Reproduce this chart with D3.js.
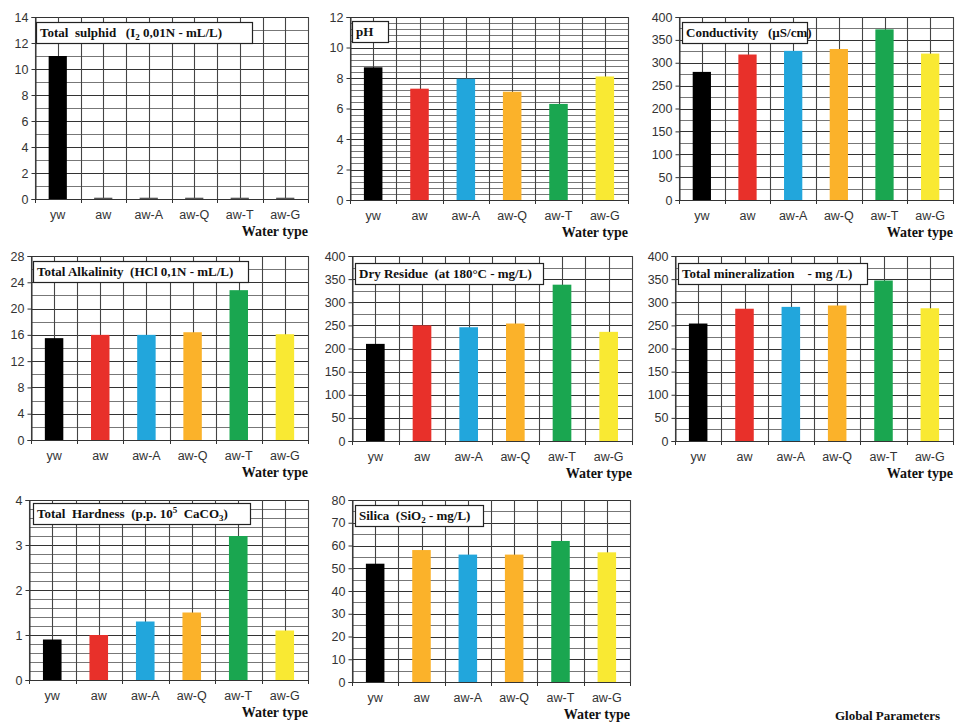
<!DOCTYPE html>
<html>
<head>
<meta charset="utf-8">
<script src="https://cdn.jsdelivr.net/npm/d3@7"></script>
<style>
  body { margin: 0; background: #fff; }
  svg { display: block; }
</style>
</head>
<body>
<svg id="chart" width="955" height="722"></svg>
<script>
// water types along the x axis
const categories = ["yw", "aw", "aw-A", "aw-Q", "aw-T", "aw-G"];

// values
const sulphidValues = [11.0, 0.1, 0.1, 0.1, 0.1, 0.1];
const phValues = [8.7, 7.3, 7.95, 7.1, 6.3, 8.1];
const conductivityValues = [280, 318, 326, 330, 373, 320];
const alkalinityValues = [15.5, 16.0, 16.0, 16.4, 22.8, 16.1];
const dryResidueValues = [210, 250, 246, 254, 338, 236];
const mineralizationValues = [254, 286, 290, 293, 347, 287];
const hardnessValues = [0.9, 1.0, 1.3, 1.5, 3.2, 1.1];
const silicaValues = [52, 58, 56, 56, 62, 57];

// bar colours
const typeColors = ["#000000", "#e8302a", "#22a6dc", "#fbb22a", "#1aa650", "#f9e933"];
const silicaColors = ["#000000", "#fbb22a", "#22a6dc", "#fbb22a", "#1aa650", "#f9e933"];
const sulphidColors = ["#000000", "#555555", "#555555", "#555555", "#555555", "#555555"];

// y axis ranges: [max, tick step, minor step]
const sulphidAxis = [14, 2, 1];
const phAxis = [12, 2, 0.4];
const conductivityAxis = [400, 50, 25];
const alkalinityAxis = [28, 4, 2];
const dryResidueAxis = [400, 50, 25];
const mineralizationAxis = [400, 50, 25];
const hardnessAxis = [4, 1, 0.2];
const silicaAxis = [80, 10, 5];

// title parts: [text, "sub"|"sup"|null]
const sulphidTitle = [["Total  sulphid   (I", null], ["2", "sub"], [" 0,01N - mL/L)", null]];
const phTitle = [["pH", null]];
const conductivityTitle = [["Conductivity   (\u00b5S/cm)", null]];
const alkalinityTitle = [["Total Alkalinity  (HCl 0,1N - mL/L)", null]];
const dryResidueTitle = [["Dry Residue  (at 180\u00b0C - mg/L)", null]];
const mineralizationTitle = [["Total mineralization    - mg /L)", null]];
const hardnessTitle = [["Total  Hardness  (p.p. 10", null], ["5", "sup"], ["  CaCO", null], ["3", "sub"], [")", null]];
const silicaTitle = [["Silica  (SiO", null], ["2", "sub"], [" - mg/L)", null]];

const svg = d3.select("#chart");

// panel frames in page pixels
const panels = [
    { values: sulphidValues, axis: sulphidAxis, title: sulphidTitle, colors: sulphidColors,
      x0: 35, x1: 308, y0: 17, y1: 199, box: [36, 22, 216] },
    { values: phValues, axis: phAxis, title: phTitle, colors: typeColors,
      x0: 350, x1: 628, y0: 17, y1: 200, box: [352, 21, 36] },
    { values: conductivityValues, axis: conductivityAxis, title: conductivityTitle, colors: typeColors,
      x0: 679, x1: 953, y0: 17, y1: 200, box: [682, 22, 125] },
    { values: alkalinityValues, axis: alkalinityAxis, title: alkalinityTitle, colors: typeColors,
      x0: 31, x1: 308, y0: 256, y1: 440, box: [33, 261, 215] },
    { values: dryResidueValues, axis: dryResidueAxis, title: dryResidueTitle, colors: typeColors,
      x0: 352, x1: 632, y0: 256, y1: 441, box: [355, 263, 188] },
    { values: mineralizationValues, axis: mineralizationAxis, title: mineralizationTitle, colors: typeColors,
      x0: 675, x1: 953, y0: 256, y1: 441, box: [678, 263, 189] },
    { values: hardnessValues, axis: hardnessAxis, title: hardnessTitle, colors: typeColors,
      x0: 29, x1: 308, y0: 500, y1: 680, box: [33, 503, 217] },
    { values: silicaValues, axis: silicaAxis, title: silicaTitle, colors: silicaColors,
      x0: 352, x1: 630, y0: 500, y1: 682, box: [355, 505, 128] }
];

panels.forEach(drawPanel);

// caption bottom right
svg.append("text")
    .attr("x", 940).attr("y", 720)
    .attr("text-anchor", "end")
    .attr("font-family", "Liberation Serif")
    .attr("font-weight", "bold")
    .attr("font-size", 13)
    .attr("fill", "#111")
    .text("Global Parameters");

function drawPanel(p) {
    const g = svg.append("g");
    const max = p.axis[0], step = p.axis[1], minor = p.axis[2];

    const x = d3.scaleBand().domain(categories).range([p.x0, p.x1]);
    const y = d3.scaleLinear().domain([0, max]).range([p.y1, p.y0]);

    // horizontal minor grid
    const minorTicks = d3.range(0, max + minor / 2, minor);
    g.selectAll(".hminor").data(minorTicks).join("line")
        .attr("x1", p.x0).attr("x2", p.x1)
        .attr("y1", d => Math.round(y(d)) + 0.5).attr("y2", d => Math.round(y(d)) + 0.5)
        .attr("stroke", "#777").attr("stroke-width", 1);

    // horizontal major grid
    const majorTicks = d3.range(0, max + step / 2, step);
    g.selectAll(".hmajor").data(majorTicks).join("line")
        .attr("x1", p.x0).attr("x2", p.x1)
        .attr("y1", d => Math.round(y(d)) + 0.5).attr("y2", d => Math.round(y(d)) + 0.5)
        .attr("stroke", "#333").attr("stroke-width", 1.2);

    // vertical grid: category edges and centres
    const vlines = [];
    categories.forEach(c => {
        vlines.push(x(c));
        vlines.push(x(c) + x.bandwidth() / 2);
    });
    vlines.push(p.x1);
    g.selectAll(".vgrid").data(vlines).join("line")
        .attr("x1", d => Math.round(d) + 0.5).attr("x2", d => Math.round(d) + 0.5)
        .attr("y1", p.y0).attr("y2", p.y1)
        .attr("stroke", "#444").attr("stroke-width", 1.1);

    // bars
    const barW = x.bandwidth() * 0.4;
    g.selectAll(".bar").data(p.values).join("rect")
        .attr("x", (d, i) => x(categories[i]) + (x.bandwidth() - barW) / 2)
        .attr("width", barW)
        .attr("y", d => y(d))
        .attr("height", d => Math.max(1.5, y(0) - y(d)))
        .attr("fill", (d, i) => p.colors[i]);

    // y axis
    const yAxis = d3.axisLeft(y).tickValues(majorTicks).tickSize(4).tickPadding(3)
        .tickFormat(d3.format("d"));
    const ya = g.append("g").attr("transform", `translate(${p.x0 + 0.5},0)`).call(yAxis);
    ya.select(".domain").attr("stroke", "#333");
    ya.selectAll(".tick line").attr("stroke", "#333");
    ya.selectAll("text")
        .attr("font-family", "Liberation Sans")
        .attr("font-size", 12.5)
        .attr("fill", "#333");

    // x axis baseline with ticks at category edges
    g.append("line")
        .attr("x1", p.x0).attr("x2", p.x1)
        .attr("y1", Math.round(y(0)) + 0.5).attr("y2", Math.round(y(0)) + 0.5)
        .attr("stroke", "#333");
    const edges = categories.map(c => x(c)).concat([p.x1]);
    g.selectAll(".xtick").data(edges).join("line")
        .attr("x1", d => Math.round(d) + 0.5).attr("x2", d => Math.round(d) + 0.5)
        .attr("y1", y(0)).attr("y2", y(0) + 4)
        .attr("stroke", "#333");

    g.selectAll(".xlabel").data(categories).join("text")
        .attr("x", d => x(d) + x.bandwidth() / 2)
        .attr("y", p.y1 + 20)
        .attr("text-anchor", "middle")
        .attr("font-family", "Liberation Sans")
        .attr("font-size", 12.5)
        .attr("fill", "#333")
        .text(d => d);

    g.append("text")
        .attr("x", p.x1)
        .attr("y", p.y1 + 37)
        .attr("text-anchor", "end")
        .attr("font-family", "Liberation Serif")
        .attr("font-weight", "bold")
        .attr("font-size", 14)
        .attr("fill", "#111")
        .text("Water type");

    // title box
    const bx = p.box[0], by = p.box[1], bw = p.box[2], bh = 21;
    g.append("rect")
        .attr("x", bx + 0.5).attr("y", by + 0.5)
        .attr("width", bw).attr("height", bh)
        .attr("fill", "#fff").attr("stroke", "#222").attr("stroke-width", 1.2);
    const t = g.append("text")
        .attr("x", bx + 4).attr("y", by + 15)
        .attr("font-family", "Liberation Serif")
        .attr("font-weight", "bold")
        .attr("font-size", 13)
        .attr("fill", "#111")
        .style("white-space", "pre");
    // sub/superscripts shift the baseline, the next part shifts it back
    let shift = 0;
    p.title.forEach(part => {
        const ts = t.append("tspan").text(part[0]);
        if (part[1] === "sub") { ts.attr("font-size", 9).attr("dy", 3 - shift); shift = 3; }
        else if (part[1] === "sup") { ts.attr("font-size", 9).attr("dy", -5 - shift); shift = -5; }
        else if (shift !== 0) { ts.attr("dy", -shift); shift = 0; }
    });
}
</script>
</body>
</html>
